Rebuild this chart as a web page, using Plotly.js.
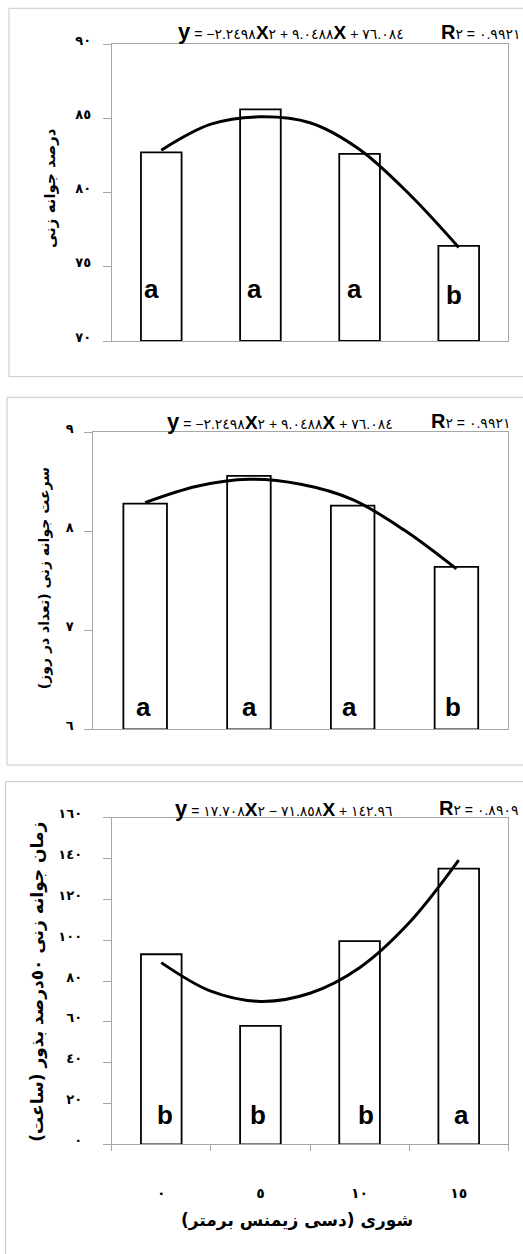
<!DOCTYPE html>
<html><head><meta charset="utf-8">
<script src="https://cdn.plot.ly/plotly-3.0.1.min.js"></script>
<style>html,body{margin:0;padding:0;background:#fff}#chart{width:523px;height:1254px}</style>
</head><body><div id="chart"></div><script>
// ---------- data ----------
const categories = [1, 2, 3, 4];
const salinityLabels = ['٠', '٥', '١٠', '١٥'];
const curveX = [1, 1.5, 2, 2.5, 3, 3.5, 4];

// panel 1 : germination percentage
const germPct = [82.7, 85.6, 82.6, 76.4];
const germPctLetters = ['a', 'a', 'a', 'b'];
const germPctCurve = [82.85, 84.6, 85.1, 84.7, 82.9, 79.9, 76.3];

// panel 2 : germination rate
const germRate = [8.28, 8.56, 8.26, 7.64];
const germRateLetters = ['a', 'a', 'a', 'b'];
const germRateCurve = [8.29, 8.455, 8.525, 8.475, 8.32, 8.01, 7.62];

// panel 3 : time to 50% germination
const t50 = [93.1, 58.0, 99.5, 135.1];
const t50Letters = ['b', 'b', 'b', 'a'];
const t50Curve = [89.0, 75.0, 70.0, 74.0, 86.5, 108.5, 139.2];

// tick labels
const yTicks1 = [70, 75, 80, 85, 90];
const yTickText1 = ['٧٠', '٧٥', '٨٠', '٨٥', '٩٠'];
const yTicks2 = [6, 7, 8, 9];
const yTickText2 = ['٦', '٧', '٨', '٩'];
const yTicks3 = [0, 20, 40, 60, 80, 100, 120, 140, 160];
const yTickText3 = ['٠', '٢٠', '٤٠', '٦٠', '٨٠', '١٠٠', '١٢٠', '١٤٠', '١٦٠'];

// texts
const yTitle1 = 'درصد جوانه زنی';
const yTitle2 = 'سرعت جوانه زنی (تعداد در روز)';
const yTitle3 = 'زمان جوانه زنی ٥٠درصد بذور (ساعت)';
const xTitle3 = 'شوری (دسی زیمنس برمتر)';
const eqCoef1 = ['−٢.٢٤٩٨', '+', '٩.٠٤٨٨', '+', '٧٦.٠٨٤'];
const eqR2_1 = '٠.٩٩٢١';
const eqCoef2 = ['−٢.٢٤٩٨', '+', '٩.٠٤٨٨', '+', '٧٦.٠٨٤'];
const eqR2_2 = '٠.٩٩٢١';
const eqCoef3 = ['١٧.٧٠٨', '−', '٧١.٨٥٨', '+', '١٤٢.٩٦'];
const eqR2_3 = '٠.٨٩٠٩';

// ---------- layout helpers ----------
const W = 523, H = 1254;
const fx = p => p / W;
const fy = p => 1 - p / H;
const LRM = '\u200E', RLM = '\u200F';
const rtl = s => RLM + s + RLM;
const big = (s, sz) => `<b><span style="font-size:${sz}px">${s}</span></b>`;
function eqText(c) {
  const parts = [big('y', 22), ' = ', c[0], big('X', 19), '٢', ' ' + c[1] + ' ', c[2], big('X', 19), ' ' + c[3] + ' ', c[4]];
  return parts.join(LRM);
}
function r2Text(v) {
  return [big('R', 20), '٢', ' = ', v].join(LRM);
}

const gridColor = '#a6a6a6';
const arabicFont = 'DejaVu Sans';

const panels = [
  {vals: germPct, curve: germPctCurve, letters: germPctLetters, base: 70, range: [70, 90],
   ticks: yTicks1, tickText: yTickText1, xd: [111.7, 508.3], yd: [44, 341], bw: 0.41,
   standoff: 9, letterY: 0.175, letterDX: [-10, -6, -5, -5], letterDY: [0, 0, 0, -6],
   title: yTitle1, titlePos: [50, 188], titleSize: 15,
   eq: eqText(eqCoef1), eqX: 176, r2: r2Text(eqR2_1), r2X: 439, eqY: 32,
   box: [9, 8.3, 376.7]},
  {vals: germRate, curve: germRateCurve, letters: germRateLetters, base: 6, range: [6, 9],
   ticks: yTicks2, tickText: yTickText2, xd: [93.3, 508.3], yd: [432.3, 729.3], bw: 0.42,
   standoff: 8, letterY: 0.076, letterDX: [-2, 1, -3, -3], letterDY: [0, 0, 0, 0],
   title: yTitle2, titlePos: [44.7, 578.5], titleSize: 14,
   eq: eqText(eqCoef2), eqX: 165, r2: r2Text(eqR2_2), r2X: 429, eqY: 421,
   box: [7, 397.3, 765]},
  {vals: t50, curve: t50Curve, letters: t50Letters, base: 0, range: [0, 160],
   ticks: yTicks3, tickText: yTickText3, xd: [111.7, 508.3], yd: [817.7, 1144.3], bw: 0.41,
   standoff: 18, letterY: 0.09, letterDX: [4, -2, 6, 3], letterDY: [0, 0, 0, 0],
   title: yTitle3, titlePos: [38, 981.7], titleSize: 17,
   eq: eqText(eqCoef3), eqX: 173, r2: r2Text(eqR2_3), r2X: 436.7, eqY: 808,
   box: [5.5, 781.7, 1262]}
];

const data = [];
const layout = {
  width: W, height: H, margin: {l: 0, r: 0, t: 0, b: 0},
  paper_bgcolor: '#ffffff', plot_bgcolor: '#ffffff', showlegend: false,
  annotations: [], shapes: []
};

panels.forEach((p, i) => {
  const n = i === 0 ? '' : String(i + 1);
  const xa = 'x' + n, ya = 'y' + n;
  data.push({
    type: 'bar', x: categories, y: p.vals.map(v => v - p.base), base: p.base,
    width: p.bw, xaxis: xa, yaxis: ya,
    marker: {color: '#ffffff', line: {color: '#000000', width: 1.8}},
    hoverinfo: 'skip'
  });
  data.push({
    type: 'scatter', mode: 'lines', x: curveX, y: p.curve, xaxis: xa, yaxis: ya,
    line: {color: '#000000', width: 3, shape: 'spline', smoothing: 1}, hoverinfo: 'skip'
  });
  const xaxis = {
    domain: [fx(p.xd[0]), fx(p.xd[1])], range: [0.5, 4.5], anchor: ya,
    showgrid: false, zeroline: false, showline: true, linecolor: gridColor, linewidth: 1,
    mirror: true, fixedrange: true
  };
  if (i === 2) {
    Object.assign(xaxis, {
      tickmode: 'array', tickvals: categories, ticktext: salinityLabels, ticks: '',
      ticklabelstandoff: 36,
      tickfont: {family: arabicFont, size: 14, color: '#000', weight: 'bold'},
      minor: {tickmode: 'array', tickvals: [0.5, 1.5, 2.5, 3.5, 4.5], ticks: 'outside',
              ticklen: 6, tickwidth: 1, tickcolor: gridColor, showgrid: false}
    });
  } else {
    Object.assign(xaxis, {showticklabels: false, ticks: ''});
  }
  layout['xaxis' + n] = xaxis;
  layout['yaxis' + n] = {
    domain: [fy(p.yd[1]), fy(p.yd[0])], range: p.range, anchor: xa,
    showgrid: false, zeroline: false, showline: true, linecolor: gridColor, linewidth: 1,
    mirror: true, ticks: 'outside', ticklen: 8, tickwidth: 1, tickcolor: gridColor,
    tickmode: 'array', tickvals: p.ticks, ticktext: p.tickText,
    ticklabelstandoff: p.standoff, ticklabelshift: -4,
    tickfont: {family: arabicFont, size: 13, color: '#000', weight: 'bold'}, fixedrange: true
  };
  // significance letters
  p.letters.forEach((L, k) => {
    layout.annotations.push({
      xref: xa, yref: ya + ' domain', x: categories[k], y: p.letterY,
      xshift: p.letterDX[k], yshift: p.letterDY[k],
      text: '<b>' + L + '</b>', showarrow: false, xanchor: 'center', yanchor: 'middle',
      font: {family: 'Liberation Sans, Arial', size: 26, color: '#000'}
    });
  });
  // y axis title
  layout.annotations.push({
    xref: 'paper', yref: 'paper', x: fx(p.titlePos[0]), y: fy(p.titlePos[1]),
    text: '<b>' + rtl(p.title) + '</b>', textangle: -90, showarrow: false,
    xanchor: 'center', yanchor: 'middle',
    font: {family: arabicFont, size: p.titleSize, color: '#000'}
  });
  // trendline equation and R²
  layout.annotations.push({
    xref: 'paper', yref: 'paper', x: fx(p.eqX), y: fy(p.eqY), xanchor: 'left', yanchor: 'middle',
    text: p.eq, showarrow: false,
    font: {family: 'Liberation Sans, DejaVu Sans', size: 14, color: '#000'}
  });
  layout.annotations.push({
    xref: 'paper', yref: 'paper', x: fx(p.r2X), y: fy(p.eqY), xanchor: 'left', yanchor: 'middle',
    text: p.r2, showarrow: false,
    font: {family: 'Liberation Sans, DejaVu Sans', size: 14, color: '#000'}
  });
  // outer chart frame
  layout.shapes.push({
    type: 'rect', xref: 'paper', yref: 'paper',
    x0: fx(p.box[0]), x1: 1.05, y0: fy(p.box[2]), y1: fy(p.box[1]),
    line: {color: '#c8c8c8', width: 1}, fillcolor: 'rgba(0,0,0,0)', layer: 'below'
  });
});

// x axis title of the bottom panel
layout.annotations.push({
  xref: 'paper', yref: 'paper', x: fx(297), y: fy(1220), xanchor: 'center', yanchor: 'middle',
  text: '<b>' + rtl(xTitle3) + '</b>', showarrow: false,
  font: {family: arabicFont, size: 17, color: '#000'}
});

Plotly.newPlot('chart', data, layout, {staticPlot: true, displayModeBar: false});
</script></body></html>
